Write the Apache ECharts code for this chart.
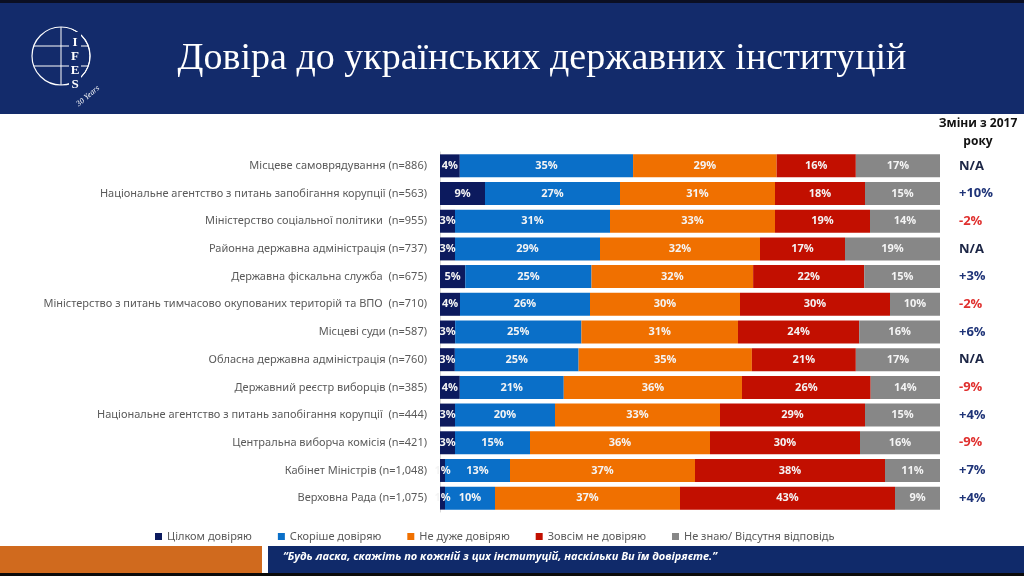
<!DOCTYPE html>
<html>
<head>
<meta charset="utf-8">
<script src="https://cdn.jsdelivr.net/npm/echarts@6/dist/echarts.min.js"></script>
<style>
html,body{margin:0;padding:0;background:#fff;}
#c{width:1024px;height:576px;}
</style>
</head>
<body>
<div id="c"></div>
<script>
const categories = [
  'Місцеве самоврядування (n=886)',
  'Національне агентство з питань запобігання корупції (n=563)',
  'Міністерство соціальної політики  (n=955)',
  'Районна державна адміністрація (n=737)',
  'Державна фіскальна служба  (n=675)',
  'Міністерство з питань тимчасово окупованих територій та ВПО  (n=710)',
  'Місцеві суди (n=587)',
  'Обласна державна адміністрація (n=760)',
  'Державний реєстр виборців (n=385)',
  'Національне агентство з питань запобігання корупції  (n=444)',
  'Центральна виборча комісія (n=421)',
  'Кабінет Міністрів (n=1,048)',
  'Верховна Рада (n=1,075)'
];
const seriesNames = ['Цілком довіряю', 'Скоріше довіряю', 'Не дуже довіряю', 'Зовсім не довіряю', 'Не знаю/ Відсутня відповідь'];
const fullyTrust    = [4, 9, 3, 3, 5, 4, 3, 3, 4, 3, 3, 1, 1];
const ratherTrust   = [35, 27, 31, 29, 25, 26, 25, 25, 21, 20, 15, 13, 10];
const notReally     = [29, 31, 33, 32, 32, 30, 31, 35, 36, 33, 36, 37, 37];
const notAtAll      = [16, 18, 19, 17, 22, 30, 24, 21, 26, 29, 30, 38, 43];
const dontKnow      = [17, 15, 14, 19, 15, 10, 16, 17, 14, 15, 16, 11, 9];
const changes2017   = ['N/A', '+10%', '-2%', 'N/A', '+3%', '-2%', '+6%', 'N/A', '-9%', '+4%', '-9%', '+7%', '+4%'];
const colors = ['#0c1a5e', '#0a6fc8', '#f07000', '#c20f00', '#878787'];

const raw = [fullyTrust, ratherTrust, notReally, notAtAll, dontKnow];
const rowSum = categories.map((_, i) => raw.reduce((s, a) => s + a[i], 0));

const series = raw.map((arr, k) => ({
  name: seriesNames[k],
  type: 'bar',
  stack: 'total',
  barCategoryGap: '17%',
  itemStyle: { color: colors[k] },
  label: {
    show: true,
    position: 'inside',
    color: '#f4f4f4',
    fontWeight: 'bold',
    fontSize: 11,
    fontFamily: 'Open Sans',
    formatter: p => arr[p.dataIndex] + '%'
  },
  emphasis: { disabled: true },
  data: arr.map((v, i) => v / rowSum[i] * 100)
}));

const chart = echarts.init(document.getElementById('c'));
chart.setOption({
  animation: false,
  grid: { left: 440, right: 84, top: 152, height: 360 },
  xAxis: { type: 'value', min: 0, max: 100, show: false },
  yAxis: [
    {
      type: 'category', inverse: true, data: categories,
      axisTick: { show: false },
      axisLine: { show: true, lineStyle: { color: '#d9d9d9' } },
      axisLabel: { color: '#5a5a5a', fontSize: 11, fontFamily: 'Noto Sans', margin: 13 }
    },
    {
      type: 'category', inverse: true, position: 'right', data: changes2017,
      axisTick: { show: false }, axisLine: { show: false },
      axisLabel: {
        margin: 19, align: 'left', fontSize: 13, fontWeight: 'bold', fontFamily: 'Open Sans',
        formatter: v => v === 'N/A' ? '{na|' + v + '}' : (v.charAt(0) === '-' ? '{neg|' + v + '}' : '{pos|' + v + '}'),
        rich: {
          na: { color: '#1b2545', fontSize: 13, fontWeight: 'bold', fontFamily: 'Open Sans' },
          neg: { color: '#e0302e', fontSize: 13, fontWeight: 'bold', fontFamily: 'Open Sans' },
          pos: { color: '#1f3478', fontSize: 13, fontWeight: 'bold', fontFamily: 'Open Sans' }
        }
      }
    }
  ],
  legend: {
    left: 150, top: 526, itemWidth: 7, itemHeight: 7, icon: 'rect', itemGap: 26,
    textStyle: { color: '#5a5a5a', fontSize: 11, fontFamily: 'Noto Sans' },
    data: seriesNames
  },
  series: series,
  graphic: [
    { type: 'rect', shape: { x: 0, y: 0, width: 1024, height: 114 }, style: { fill: '#132b6b' }, z: 0 },
    { type: 'rect', shape: { x: 0, y: 0, width: 1024, height: 3 }, style: { fill: '#0b0f22' }, z: 1 },
    { type: 'text', x: 542, y: 59, style: { text: 'Довіра до українських державних інституцій', fill: '#ffffff', font: '38px "Liberation Serif"', textAlign: 'center', textVerticalAlign: 'middle' }, z: 2 },
    { type: 'circle', shape: { cx: 61, cy: 56, r: 29 }, style: { fill: 'none', stroke: '#ffffff', lineWidth: 1.2 }, z: 2 },
    { type: 'arc', shape: { cx: 61, cy: 56, r: 29, startAngle: -1.2, endAngle: 1.2 }, style: { fill: 'none', stroke: '#ffffff', lineWidth: 1 }, z: 2 },
    { type: 'line', shape: { x1: 34, y1: 46, x2: 88, y2: 46 }, style: { stroke: '#ffffff', lineWidth: 1 }, z: 2 },
    { type: 'line', shape: { x1: 34, y1: 66, x2: 88, y2: 66 }, style: { stroke: '#ffffff', lineWidth: 1 }, z: 2 },
    { type: 'line', shape: { x1: 61, y1: 27, x2: 61, y2: 85 }, style: { stroke: '#ffffff', lineWidth: 1 }, z: 2 },
    { type: 'rect', shape: { x: 69, y: 32, width: 12, height: 62 }, style: { fill: '#132b6b' }, z: 3 },
    { type: 'text', x: 75, y: 64, style: { text: 'I\nF\nE\nS', fill: '#ffffff', font: 'bold 13px "Liberation Serif"', textAlign: 'center', textVerticalAlign: 'middle', lineHeight: 14 }, z: 4 },
    { type: 'text', x: 88, y: 96, rotation: 0.7, style: { text: '30 Years', fill: '#ffffff', font: 'italic 8px "Liberation Serif"', textAlign: 'center', textVerticalAlign: 'middle' }, z: 4 },
    { type: 'text', x: 978, y: 124, style: { text: 'Зміни з 2017', fill: '#111111', font: 'bold 12px "Open Sans"', textAlign: 'center', textVerticalAlign: 'middle' }, z: 2 },
    { type: 'text', x: 978, y: 142, style: { text: 'року', fill: '#111111', font: 'bold 12px "Open Sans"', textAlign: 'center', textVerticalAlign: 'middle' }, z: 2 },
    { type: 'rect', shape: { x: 0, y: 546, width: 262, height: 27 }, style: { fill: '#d06a1e' }, z: 0 },
    { type: 'rect', shape: { x: 268, y: 546, width: 756, height: 27 }, style: { fill: '#102a6a' }, z: 0 },
    { type: 'text', x: 283, y: 557, style: { text: '“Будь ласка, скажіть по кожній з цих інституцій, наскільки Ви їм довіряєте.”', fill: '#ffffff', font: 'italic bold 11px "Open Sans"', textVerticalAlign: 'middle' }, z: 2 },
    { type: 'rect', shape: { x: 0, y: 573, width: 1024, height: 3 }, style: { fill: '#0b0b0b' }, z: 1 }
  ]
});
</script>
</body>
</html>
